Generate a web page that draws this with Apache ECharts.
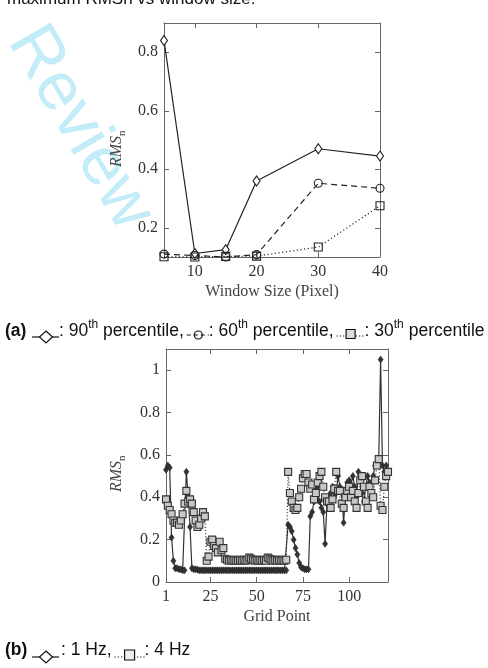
<!DOCTYPE html>
<html><head><meta charset="utf-8">
<script src="https://cdn.jsdelivr.net/npm/echarts@6/dist/echarts.min.js"></script>
<style>html,body{margin:0;padding:0;background:#fff}#c{width:488px;height:668px}</style>
</head><body><div id="c"></div>
<script>
// ---------- (a) top chart data ----------
const windowSizes = [5, 10, 15, 20, 30, 40];
const p90 = [0.84, 0.112, 0.125, 0.36, 0.47, 0.445];
const p60 = [0.11, 0.105, 0.1, 0.108, 0.352, 0.335];
const p30 = [0.101, 0.1, 0.102, 0.103, 0.134, 0.275];
const topXTicks = [10, 20, 30, 40];
const topYTicks = [0.2, 0.4, 0.6, 0.8];

// ---------- (b) bottom chart data ----------
const hz1 = [
  0.53, 0.55, 0.54, 0.21, 0.10, 0.065, 0.065, 0.06, 0.06, 0.055,
  0.055, 0.52, 0.40, 0.26, 0.065, 0.06, 0.06, 0.058, 0.055, 0.055,
  0.055, 0.055, 0.055, 0.055, 0.055, 0.055, 0.055, 0.055, 0.055, 0.055,
  0.055, 0.055, 0.055, 0.055, 0.055, 0.055, 0.055, 0.055, 0.055, 0.055,
  0.055, 0.055, 0.055, 0.055, 0.055, 0.055, 0.055, 0.055, 0.055, 0.055,
  0.055, 0.055, 0.055, 0.055, 0.055, 0.055, 0.055, 0.055, 0.055, 0.055,
  0.055, 0.055, 0.055, 0.055, 0.055, 0.055,
  0.27, 0.26, 0.24, 0.20,
  0.16, 0.13, 0.09, 0.07, 0.065, 0.06, 0.06, 0.06, 0.31, 0.33,
  0.38, 0.45, 0.45, 0.38, 0.35, 0.33, 0.18, 0.37, 0.38, 0.42,
  0.45, 0.40, 0.42, 0.50, 0.45, 0.42, 0.28, 0.40, 0.47, 0.48,
  0.46, 0.50, 0.45, 0.40, 0.52, 0.48, 0.42, 0.38, 0.45, 0.50,
  0.47, 0.42, 0.50, 0.55, 0.55, 0.58, 1.05, 0.55, 0.52, 0.55, 0.52
];
const hz4 = [
  0.39, 0.36, 0.34, 0.32, 0.29, 0.28, 0.28, 0.27, 0.29, 0.32,
  0.37, 0.43, 0.38, 0.39, 0.37, 0.33, 0.29, 0.26, 0.27, 0.30,
  0.33, 0.31, 0.10, 0.12, 0.19, 0.20, 0.17, 0.16, 0.14, 0.19,
  0.15, 0.16, 0.11, 0.105, 0.10, 0.105, 0.10, 0.105, 0.10, 0.10,
  0.105, 0.10, 0.105, 0.10, 0.105, 0.115, 0.11, 0.105, 0.10, 0.105,
  0.10, 0.105, 0.10, 0.105, 0.10, 0.115, 0.11, 0.105, 0.10, 0.105,
  0.10, 0.105, 0.10, 0.105, 0.10, 0.105,
  0.52, 0.42, 0.38, 0.35,
  0.34, 0.35, 0.40, 0.44, 0.49, 0.51, 0.51, 0.47, 0.44, 0.46,
  0.39, 0.42, 0.47, 0.50, 0.52, 0.45, 0.40, 0.38, 0.38, 0.35,
  0.39, 0.44, 0.52, 0.43, 0.43, 0.37, 0.35, 0.40, 0.43, 0.45,
  0.40, 0.43, 0.38, 0.35, 0.42, 0.48, 0.50, 0.45, 0.38, 0.35,
  0.45, 0.42, 0.40, 0.48, 0.55, 0.58, 0.36, 0.34, 0.45, 0.50, 0.52
];
const gridPoints = hz1.map((_, i) => i + 1);
const botXTicks = [1, 25, 50, 75, 100];
const botYTicks = [0, 0.2, 0.4, 0.6, 0.8, 1];

// ---------- styling helpers ----------
const SERIF = '"Liberation Serif", "DejaVu Serif", serif';
const SANS = '"Liberation Sans", Arial, sans-serif';
const AXC = '#666';
const LBL = '#333';

function xAx(gi, min, max, ticks, labels, pos) {
  return {
    type: 'value', gridIndex: gi, min: min, max: max, position: pos,
    axisLine: { show: true, onZero: false, lineStyle: { color: AXC, width: 1 } },
    axisTick: { show: true, inside: true, length: 5, customValues: ticks, lineStyle: { color: AXC } },
    axisLabel: labels ? { show: true, customValues: labels, margin: 7, color: LBL, fontFamily: SERIF, fontSize: 16 } : { show: false },
    splitLine: { show: false }
  };
}
function yAx(gi, min, max, ticks, labels, pos) {
  return {
    type: 'value', gridIndex: gi, min: min, max: max, position: pos,
    axisLine: { show: true, onZero: false, lineStyle: { color: AXC, width: 1 } },
    axisTick: { show: true, inside: true, length: 5, customValues: ticks, lineStyle: { color: AXC } },
    axisLabel: labels ? { show: true, customValues: labels, margin: 6, color: LBL, fontFamily: SERIF, fontSize: 16,
      formatter: v => String(Math.round(v * 10) / 10) } : { show: false },
    splitLine: { show: false }
  };
}

const chart = echarts.init(document.getElementById('c'), null, { renderer: 'canvas' });

// text measuring for caption layout
const mctx = document.createElement('canvas').getContext('2d');
function tw(t, font) { mctx.font = font; return mctx.measureText(t).width; }

const graphics = [];
// watermark
graphics.push({ type: 'text', x: 80, y: 128, rotation: -1.04, z: -10, silent: true,
  style: { text: 'Review', fill: '#c2ecf8', font: '68px ' + SANS, align: 'center', verticalAlign: 'middle' } });
// cut header (only the bottom of the line is inside the page)
graphics.push({ type: 'text', x: 7, y: 7.5, style: { text: 'maximum RMSn vs window size.', fill: '#111', font: '17px ' + SANS, align: 'left', verticalAlign: 'bottom' } });

// y axis names (rotated)
function yName(cx, cy) {
  return { type: 'group', x: cx, y: cy, rotation: Math.PI / 2, children: [
    { type: 'text', x: 4, y: 0, style: { text: 'RMS', fill: '#444', font: 'italic 16px ' + SERIF, align: 'right', verticalAlign: 'middle' } },
    { type: 'text', x: 4, y: 5, style: { text: 'n', fill: '#444', font: '11px ' + SERIF, align: 'left', verticalAlign: 'middle' } }
  ] };
}
graphics.push(yName(117, 140));
graphics.push(yName(117, 465));
graphics.push({ type: 'text', x: 272, y: 292, style: { text: 'Window Size (Pixel)', fill: '#444', font: '16px ' + SERIF, align: 'center', verticalAlign: 'middle' } });
graphics.push({ type: 'text', x: 277, y: 617, style: { text: 'Grid Point', fill: '#444', font: '16px ' + SERIF, align: 'center', verticalAlign: 'middle' } });

// caption helpers
const CF = '17.5px ' + SANS, CFB = 'bold 17.5px ' + SANS, SF = '12px ' + SANS;
function capRun(parts, x, yMid) {
  parts.forEach(p => {
    const f = p.sup ? SF : (p.bold ? CFB : CF);
    graphics.push({ type: 'text', x: x, y: p.sup ? yMid - 6 : yMid, style: { text: p.t, fill: '#111', font: f, align: 'left', verticalAlign: 'middle' } });
    x += tw(p.t, f);
  });
  return x;
}
function lineEl(x1, y1, x2, y2, dash) {
  return { type: 'line', shape: { x1, y1, x2, y2 }, style: { stroke: '#111', lineWidth: 1.2, lineDash: dash || null } };
}
function diamondEl(cx, cy, hw, hh, fill) {
  return { type: 'polygon', shape: { points: [[cx, cy - hh], [cx + hw, cy], [cx, cy + hh], [cx - hw, cy]] }, style: { fill: fill, stroke: '#111', lineWidth: 1.2 } };
}
function symDiamond(x, y) { graphics.push(lineEl(x, y, x + 27, y)); graphics.push(diamondEl(x + 14, y, 6.5, 6, '#fff')); return x + 27; }
function symCircle(x, y) {
  graphics.push(lineEl(x, y, x + 22, y, [4, 3]));
  graphics.push({ type: 'circle', shape: { cx: x + 11.5, cy: y, r: 4 }, style: { fill: 'none', stroke: '#111', lineWidth: 1.2 } });
  return x + 22;
}
function symSquare(x, y, w, s, fill) {
  graphics.push(lineEl(x, y + 2, x + w, y + 2, [1.2, 2]));
  graphics.push({ type: 'rect', shape: { x: x + w / 2 - s / 2, y: y - s / 2, width: s, height: s }, style: { fill: fill, stroke: '#111', lineWidth: 1.2 } });
  return x + w;
}

// (a) caption
let cx = capRun([{ t: '(a)', bold: true }], 5, 331);
cx = symDiamond(32, 337);
cx = capRun([{ t: ': 90' }, { t: 'th', sup: true }, { t: ' percentile,' }], cx, 331);
cx = symCircle(cx + 3, 335);
cx = capRun([{ t: ': 60' }, { t: 'th', sup: true }, { t: ' percentile,' }], cx, 331);
cx = symSquare(cx + 3, 334, 28, 9, '#ddd');
capRun([{ t: ': 30' }, { t: 'th', sup: true }, { t: ' percentile' }], cx, 331);

// (b) caption
capRun([{ t: '(b)', bold: true }], 5, 650);
cx = symDiamond(32, 657);
cx = capRun([{ t: ': 1 Hz,' }], cx + 2, 650);
cx = symSquare(cx + 3, 655, 30, 10, '#eee');
capRun([{ t: ': 4 Hz' }], cx, 650);

const option = {
  animation: false,
  backgroundColor: '#fff',
  grid: [
    { left: 164, top: 23, width: 216, height: 234, outerBoundsMode: 'none', containLabel: false },
    { left: 166, top: 349, width: 222, height: 233, outerBoundsMode: 'none', containLabel: false }
  ],
  xAxis: [
    xAx(0, 5, 40, topXTicks, topXTicks, 'bottom'),
    xAx(0, 5, 40, [10, 20, 30], null, 'top'),
    xAx(1, 1, 121, botXTicks, botXTicks, 'bottom'),
    xAx(1, 1, 121, [25, 50, 75, 100], null, 'top')
  ],
  yAxis: [
    yAx(0, 0.1, 0.9, topYTicks, topYTicks, 'left'),
    yAx(0, 0.1, 0.9, topYTicks, null, 'right'),
    yAx(1, 0, 1.1, botYTicks, botYTicks, 'left'),
    yAx(1, 0, 1.1, [0.2, 0.4, 0.6, 0.8, 1], null, 'right')
  ],
  graphic: graphics,
  series: [
    { name: '90th percentile', type: 'line', xAxisIndex: 0, yAxisIndex: 0, clip: false,
      data: windowSizes.map((x, i) => [x, p90[i]]),
      symbol: 'diamond', symbolSize: [7, 10], showAllSymbol: true,
      lineStyle: { color: '#222', width: 1.2 },
      itemStyle: { color: '#fff', borderColor: '#222', borderWidth: 1.1 }, emphasis: { disabled: true } },
    { name: '60th percentile', type: 'line', xAxisIndex: 0, yAxisIndex: 0, clip: false,
      data: windowSizes.map((x, i) => [x, p60[i]]),
      symbol: 'circle', symbolSize: 8, showAllSymbol: true,
      lineStyle: { color: '#222', width: 1.2, type: [6, 4] },
      itemStyle: { color: 'rgba(0,0,0,0)', borderColor: '#222', borderWidth: 1.1 }, emphasis: { disabled: true } },
    { name: '30th percentile', type: 'line', xAxisIndex: 0, yAxisIndex: 0, clip: false,
      data: windowSizes.map((x, i) => [x, p30[i]]),
      symbol: 'rect', symbolSize: 8, showAllSymbol: true,
      lineStyle: { color: '#222', width: 1.2, type: [1.2, 2.5] },
      itemStyle: { color: 'rgba(0,0,0,0)', borderColor: '#222', borderWidth: 1.1 }, emphasis: { disabled: true } },
    { name: '1 Hz', type: 'line', xAxisIndex: 2, yAxisIndex: 2, clip: false,
      data: gridPoints.map((x, i) => [x, hz1[i]]),
      symbol: 'diamond', symbolSize: [5, 7], showAllSymbol: true,
      lineStyle: { color: '#333', width: 1.2 },
      itemStyle: { color: '#333', borderColor: '#222', borderWidth: 0.6 }, emphasis: { disabled: true } },
    { name: '4 Hz', type: 'line', xAxisIndex: 2, yAxisIndex: 2, clip: false,
      data: gridPoints.map((x, i) => [x, hz4[i]]),
      symbol: 'rect', symbolSize: 7, showAllSymbol: true,
      lineStyle: { color: '#444', width: 1.2, type: [1.2, 2] },
      itemStyle: { color: '#c8c8c8', borderColor: '#333', borderWidth: 1.1 }, emphasis: { disabled: true } }
  ]
};
chart.setOption(option);
</script>
</body></html>
